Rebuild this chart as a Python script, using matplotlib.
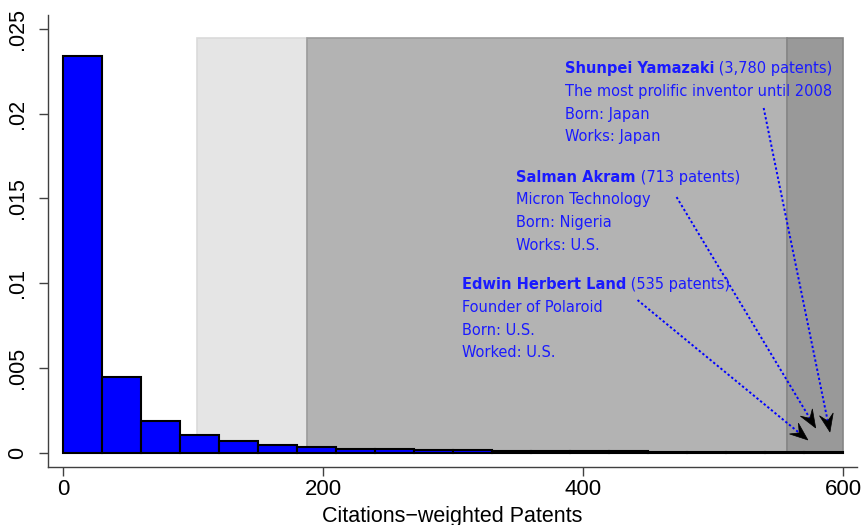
import matplotlib
matplotlib.use("Agg")
import matplotlib.pyplot as plt
import numpy as np
from matplotlib.patches import Polygon
from matplotlib.transforms import offset_copy
from matplotlib import font_manager as fm

# ---------------- data ----------------
bin_width = 30
bin_starts = list(range(0, 600, 30))
densities = [0.0234, 0.00446, 0.00188, 0.00103, 0.00066, 0.00046, 0.00032,
             0.00022, 0.00019, 0.00015, 0.00012, 0.00010, 0.00008, 0.00007,
             0.00006, 0.00005, 0.00004, 0.00004, 0.00003, 0.00003]

band_starts = [103, 188, 557]
band_ends = [188, 557, 600]
band_top = 0.0245
band_colors = ["#e5e5e5", "#b3b3b3", "#999999"]
band_edges = ["#dadada", "#9c9c9c", "#858585"]

x_ticks = [0, 200, 400, 600]
y_ticks = [0, 0.005, 0.01, 0.015, 0.02, 0.025]
y_tick_labels = ["0", ".005", ".01", ".015", ".02", ".025"]

names = ["Shunpei Yamazaki", "Salman Akram", "Edwin Herbert Land"]
counts = [" (3,780 patents)", " (713 patents)", " (535 patents)"]
details = [["The most prolific inventor until 2008", "Born: Japan", "Works: Japan"],
           ["Micron Technology", "Born: Nigeria", "Works: U.S."],
           ["Founder of Polaroid", "Born: U.S.", "Worked: U.S."]]
text_x = [386, 348.5, 307]
text_y = [0.02239, 0.01599, 0.00963]
arrow_start = [(539, 0.02034), (472, 0.01508), (442, 0.0090)]
arrow_tip = [(590, 0.00121), (579, 0.00145), (573, 0.00074)]

# ---------------- font choice for annotations ----------------
def find_narrow(bold):
    cands = []
    for f in fm.fontManager.ttflist:
        nm = f.name.lower()
        fn = f.fname.lower()
        narrow = ("narrow" in nm or "condensed" in nm or "narrow" in fn
                  or "condensed" in fn or f.stretch in ("condensed", "semi-condensed"))
        if not narrow or "mono" in nm or "serif" in nm.replace("sans", ""):
            continue
        isbold = (f.weight in ("bold", 700) or (isinstance(f.weight, int) and f.weight >= 600)
                  or "bold" in fn)
        if "italic" in fn or "oblique" in fn or f.style != "normal":
            continue
        if isbold == bold:
            cands.append(f.fname)
    return cands[0] if cands else None

reg_file = find_narrow(False)
bold_file = find_narrow(True)
if reg_file:
    fp_reg = fm.FontProperties(fname=reg_file)
    fp_bold = fm.FontProperties(fname=bold_file) if bold_file else fm.FontProperties(fname=reg_file, weight="bold")
else:
    fp_reg = fm.FontProperties(family="Lato")
    fp_bold = fm.FontProperties(family="Lato", weight="bold")

# ---------------- figure ----------------
W, H = 863, 525
fig = plt.figure(figsize=(W / 100, H / 100), dpi=100)
ax = fig.add_axes([48 / W, (H - 467) / H, (857 - 48) / W, (467 - 15) / H])
ax.set_xlim(-11.5, 610.8)
ax.set_ylim(-0.000856, 0.02583)

# bands
for s, e, c, ec in zip(band_starts, band_ends, band_colors, band_edges):
    ax.bar(s, band_top, width=e - s, bottom=0, align="edge", color=c,
           edgecolor=ec, linewidth=1.2, zorder=1)

# histogram
ax.bar(bin_starts, densities, width=bin_width, align="edge", color="#0000ff",
       edgecolor="black", linewidth=1.5, zorder=3)

# axes styling
for sp in ["top", "right"]:
    ax.spines[sp].set_visible(False)
for sp in ["left", "bottom"]:
    ax.spines[sp].set_color("#404040")
    ax.spines[sp].set_linewidth(1.0)
ax.set_xticks(x_ticks)
ax.set_xticklabels([str(v) for v in x_ticks], fontsize=16,
                   fontfamily="Liberation Sans")
ax.set_yticks(y_ticks)
ax.set_yticklabels(y_tick_labels, fontsize=15.5, fontfamily="Liberation Sans",
                   rotation=90, va="center")
ax.tick_params(axis="both", direction="out", length=6.5, width=1.0,
               color="#404040")
ax.tick_params(axis="x", pad=2)
ax.tick_params(axis="y", pad=8)
ax.set_xlabel("Citations\u2212weighted Patents", fontsize=15.5,
              fontfamily="Liberation Sans", labelpad=4.5)

# annotations: size the font so the longest line is ~265 px wide
fig.canvas.draw()
renderer = fig.canvas.get_renderer()
probe = ax.text(0, 0, details[0][0], fontproperties=fp_reg, fontsize=13)
w13 = probe.get_window_extent(renderer).width
probe.remove()
fs = min(13.5, 13.0 * 266.0 / w13)
fp_reg.set_size(fs)
fp_bold.set_size(fs)

blue = "#1a1aff"
line_step = 0.00134
for i in range(3):
    t = ax.text(text_x[i], text_y[i], names[i], fontproperties=fp_bold,
                color=blue, va="baseline", ha="left", zorder=5)
    wpx = t.get_window_extent(renderer).width
    tr = offset_copy(ax.transData, fig=fig, x=wpx, y=0, units="dots")
    ax.text(text_x[i], text_y[i], counts[i], fontproperties=fp_reg,
            color=blue, va="baseline", ha="left", transform=tr, zorder=5)
    for j, line in enumerate(details[i]):
        ax.text(text_x[i], text_y[i] - (j + 1) * line_step, line,
                fontproperties=fp_reg, color=blue, va="baseline", ha="left",
                zorder=5)

# arrows: dotted blue shaft + black barbed head
for (sx, sy), (tx, ty) in zip(arrow_start, arrow_tip):
    ps = ax.transData.transform((sx, sy))
    pt = ax.transData.transform((tx, ty))
    d = pt - ps
    L = np.hypot(*d)
    u = d / L
    n = np.array([-u[1], u[0]])
    hl, hw = 18.0, 7.0
    back = pt - hl * u
    notch = pt - 0.62 * hl * u
    nd = ax.transData.inverted().transform(notch)
    ax.plot([sx, nd[0]], [sy, nd[1]], color="#0000ff",
            linestyle=(0, (1.2, 1.2)), linewidth=1.4, zorder=4)
    verts_disp = np.array([pt, back + hw * n, notch, back - hw * n])
    verts = ax.transData.inverted().transform(verts_disp)
    ax.add_patch(Polygon(verts, closed=True, facecolor="black",
                         edgecolor="black", linewidth=0.5, zorder=6))

fig.savefig("out.png", dpi=100)
